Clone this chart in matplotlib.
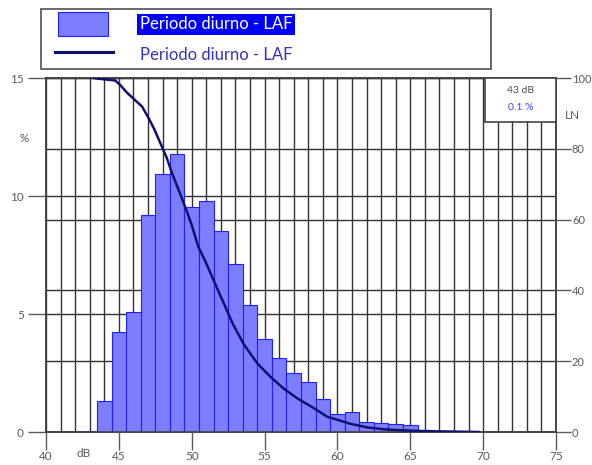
import numpy as np
import matplotlib.pyplot as plt
from matplotlib.patches import Rectangle
from matplotlib.legend_handler import HandlerPatch, HandlerLine2D

plt.rcParams['font.family'] = ['Lato', 'DejaVu Sans']

# histograma: classes de 1 dB (centro da classe) e % do tempo
niveis_db = [43, 44, 45, 46, 47, 48, 49, 50, 51, 52, 53, 54, 55,
             56, 57, 58, 59, 60, 61, 62, 63, 64, 65, 66, 67]
percentagens = [0.05, 1.33, 4.25, 5.1, 9.2, 10.95, 11.8, 9.53, 9.78, 8.5, 7.12, 5.37, 3.93,
                3.14, 2.5, 2.1, 1.38, 0.76, 0.83, 0.44, 0.37, 0.34, 0.30, 0.10, 0.05]

# curva LN (% do tempo em que o nivel e excedido)
curva_db = [43.3, 43.6, 44.75, 45.1, 45.55, 46.1, 46.6, 47.05, 47.4, 47.7, 48.05, 48.3,
            48.65, 49.1, 49.55, 50.0, 50.45, 50.95, 51.5, 52.1, 52.8, 53.6, 54.5, 55.4,
            56.3, 57.25, 58.4, 59.3, 60.2, 60.9, 62.05, 63.2, 64.35, 65.5, 67.3, 69.7]
curva_ln = [100, 99.8, 99.3, 98.0, 95.9, 93.8, 91.9, 88.6, 85.8, 83.0, 79.7, 77.3,
            73.1, 68.4, 63.6, 58.5, 52.3, 48.1, 42.9, 37.3, 30.7, 24.6, 19.4, 15.6,
            12.3, 9.5, 6.7, 4.3, 3.2, 2.3, 1.3, 0.75, 0.5, 0.3, 0.15, 0.0]

ticks_pct = [0, 5, 10, 15]
ticks_ln = [0, 20, 40, 60, 80, 100]
ticks_db = list(range(40, 76, 5))

cursor_db = 43
cursor_pct = 0.1
legenda = 'Periodo diurno - LAF'

cinza = '#5a5a5a'
grelha = '#333333'
moldura = '#444444'

fig = plt.figure(figsize=(5.92, 4.65), dpi=100)
ax = fig.add_axes([46 / 592, 33 / 465, 510 / 592, 354 / 465])
ax2 = ax.twinx()   # eixo LN, so grelha e ticks (por tras)
ax3 = ax.twinx()   # curva LN e caixa do cursor (por cima)

ax2.set_zorder(1)
ax.set_zorder(2)
ax3.set_zorder(3)
ax.patch.set_visible(False)
ax2.patch.set_visible(True)
ax2.set_facecolor('white')

barras = ax.bar(niveis_db, percentagens, width=1.0, color='#7d7dff',
                edgecolor='#2020ff', linewidth=0.8, zorder=2)
linha, = ax3.plot(curva_db, curva_ln, color='#10106e', lw=1.8, zorder=3)

ax.set_xlim(40, 75)
ax.set_ylim(0, 15)
ax2.set_ylim(0, 100)
ax3.set_ylim(0, 100)
ax3.set_axis_off()

ax.set_xticks(ticks_db)
ax.set_xticks(range(40, 76), minor=True)
ax.set_yticks(ticks_pct)
ax2.set_yticks(ticks_ln)
ax.set_axisbelow(True)
ax.grid(axis='x', which='both', color=grelha, lw=1)
ax.grid(axis='y', which='major', color=grelha, lw=1)
ax2.grid(axis='y', color=grelha, lw=1)

ax.tick_params(axis='x', which='minor', length=0)
ax.tick_params(axis='both', which='major', length=13, width=1, color=cinza,
               labelcolor=cinza, labelsize=8.5)
ax.tick_params(axis='x', pad=1)
ax.tick_params(axis='y', pad=3)
ax2.tick_params(axis='y', length=11, width=1, color=cinza, labelcolor=cinza,
                labelsize=8, pad=0.5)

for a in (ax, ax2):
    for s in a.spines.values():
        s.set_color(moldura)
        s.set_linewidth(1.2)

# rotulos das unidades
ax.text(-0.043, 0.83, '%', transform=ax.transAxes, ha='center', va='center',
        fontsize=8.5, color=cinza)
ax.text(42.55, -0.062, 'dB', transform=ax.get_xaxis_transform(), ha='center',
        va='center', fontsize=8.5, color=cinza)
ax2.text(1.033, 0.895, 'LN', transform=ax2.transAxes, ha='center', va='center',
         fontsize=8.5, color=cinza)

# caixa do cursor
ax3.add_patch(Rectangle((0.861, 0.876), 0.139, 0.124, transform=ax3.transAxes,
                        facecolor='white', edgecolor=moldura, lw=1.2,
                        clip_on=False, zorder=5))
ax3.text(0.93, 0.966, f'{cursor_db} dB', transform=ax3.transAxes, ha='center',
         va='center', fontsize=7.5, color='#505050', zorder=6)
ax3.text(0.93, 0.916, f'{cursor_pct:.1f} %', transform=ax3.transAxes, ha='center',
         va='center', fontsize=7.5, color='#4040ff', zorder=6)

# legenda (medidas em px convertidas para a fonte de 12 pt)
fs = 12
px = 72 / 100 / fs   # 1 px em unidades de fontsize


def caixa_legenda(legend, orig_handle, xdescent, ydescent, width, height, fontsize):
    return Rectangle((-xdescent + 12 * px * fontsize, -ydescent - 2 * px * fontsize),
                     50 * px * fontsize, height + 4 * px * fontsize)


barra0 = barras.patches[0]
leg = fig.legend(handles=[barra0, linha], labels=[legenda, legenda],
                 bbox_to_anchor=(41 / 592, 1 - 9 / 465, 450 / 592, 0),
                 loc='upper left', mode='expand', borderaxespad=0, fancybox=False,
                 edgecolor='#505050', framealpha=1, fontsize=fs, numpoints=2,
                 handlelength=76 * px, handleheight=24 * px, handletextpad=18 * px,
                 labelspacing=11 * px, borderpad=5 * px,
                 handler_map={barra0: HandlerPatch(patch_func=caixa_legenda),
                              linha: HandlerLine2D(marker_pad=9 * px)})
leg.get_frame().set_linewidth(1.2)
leg.legend_handles[1].set_linewidth(2.2)
t0, t1 = leg.get_texts()
t0.set_color('white')
t0.set_bbox(dict(facecolor='#0000ff', edgecolor='none', pad=2))
t1.set_color('#3333bb')

fig.savefig('out.png', dpi=100)
